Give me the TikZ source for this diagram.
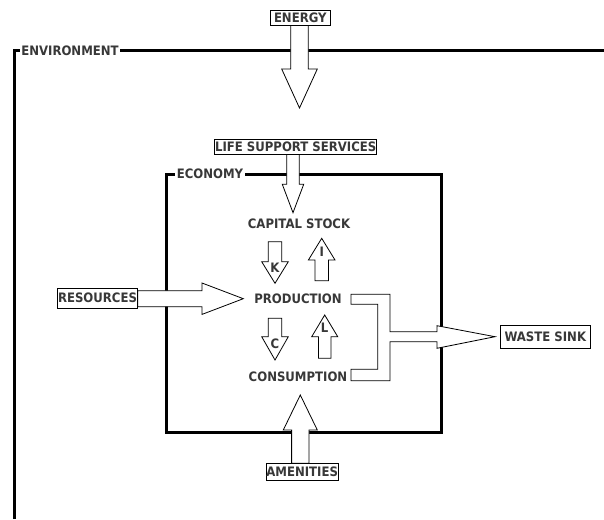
\documentclass[tikz,border=0pt]{standalone}
\usepackage{fontspec}
\setmainfont{DejaVu Sans}[FakeStretch=0.9]

% vertical block arrow: x, shaft end, head base, tip, shaft half-width, head half-width
\newcommand{\vfat}[6]{%
  \draw[fatarrow] ({#1-#5},#2) -- ({#1-#5},#3) -- ({#1-#6},#3) -- (#1,#4)
    -- ({#1+#6},#3) -- ({#1+#5},#3) -- ({#1+#5},#2) -- cycle;}
% horizontal block arrow: y, shaft end, head base, tip, shaft half-width, head half-width
\newcommand{\hfat}[6]{%
  \draw[fatarrow] (#2,{#1-#5}) -- (#3,{#1-#5}) -- (#3,{#1-#6}) -- (#4,#1)
    -- (#3,{#1+#6}) -- (#3,{#1+#5}) -- (#2,{#1+#5}) -- cycle;}

\tikzset{
  frame/.style={line width=3pt, line join=miter},
  fatarrow/.style={draw=black, fill=white, line width=0.8pt, line join=miter},
  lbl/.style={font=\fontsize{13}{15}\selectfont\bfseries, text=black!78, inner sep=0pt},
  boxlbl/.style={lbl, draw=black, fill=white, line width=0.8pt},
  framelbl/.style={lbl, fill=white, inner xsep=1.5pt, inner ysep=3pt},
}

\begin{document}
\begin{tikzpicture}[x=1pt, y=-1pt]
  \useasboundingbox (0,0) rectangle (604,519);

  % environment and economy frames
  \draw[frame] (14,519) -- (14,51) -- (604,51);
  \node[framelbl] (envlbl) at (70,51) {ENVIRONMENT};
  \draw[frame] (166,174) rectangle (441,432);
  \node[framelbl] (ecolbl) at (210,174) {ECONOMY};

  % inflows
  \vfat{299.5}{25}{69}{108}{8.8}{17.8}
  \vfat{293}{154}{184.3}{212.7}{6.3}{10.7}
  \hfat{298.7}{137.7}{202}{243.3}{8}{15.7}
  \vfat{300.3}{463.3}{430}{395}{8.7}{17}

  % internal flows
  \vfat{275}{241.7}{261.7}{283.3}{6.7}{13.3}
  \vfat{321.7}{280.7}{260}{238.3}{6.7}{13.3}
  \vfat{275}{318.3}{336.7}{360}{6.7}{13.3}
  \vfat{324.7}{358.3}{336.7}{315}{6.3}{13}
  \node[lbl] (k) at (275,268) {K};
  \node[lbl] (i) at (321.7,252) {I};
  \node[lbl] (c) at (275,344) {C};
  \node[lbl] (l) at (324.5,328) {L};

  % waste outflow gathered from production and consumption
  \draw[fatarrow] (351,294.3) -- (390,294.3) -- (390,331.7) -- (437,331.7)
    -- (437,325.7) -- (495,336.7) -- (437,348.3) -- (437,341.7) -- (390,341.7)
    -- (390,380.7) -- (351,380.7) -- (351,369.3) -- (377.7,369.3)
    -- (377.7,304.3) -- (351,304.3) -- cycle;

  % labelled boxes
  \node[boxlbl, minimum width=59.3pt, minimum height=15pt] (energy) at (300.3,17.5) {ENERGY};
  \node[boxlbl, minimum width=160pt, minimum height=14.7pt, inner xsep=0.5pt] (lss) at (295.7,146.7) {LIFE SUPPORT SERVICES};
  \node[boxlbl, minimum width=80.4pt, minimum height=20pt] (res) at (97.5,298) {RESOURCES};
  \node[boxlbl, minimum width=72.3pt, minimum height=16.7pt] (amen) at (302.2,471.7) {AMENITIES};
  \node[boxlbl, minimum width=89.3pt, minimum height=22.6pt] (waste) at (545.3,337) {WASTE SINK};

  % economic sectors
  \node[lbl] (capital) at (299,224) {CAPITAL STOCK};
  \node[lbl] (production) at (298,299) {PRODUCTION};
  \node[lbl] (consumption) at (298,376.7) {CONSUMPTION};
\end{tikzpicture}
\end{document}
